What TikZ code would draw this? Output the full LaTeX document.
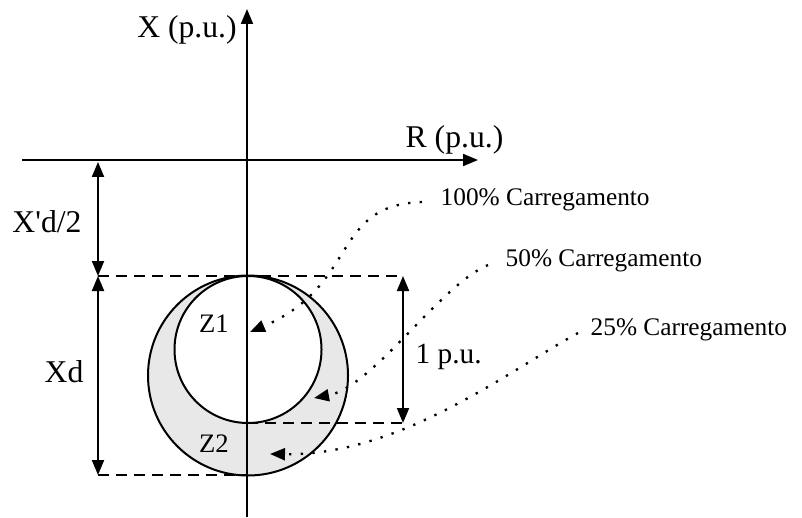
\documentclass[tikz,border=0pt]{standalone}
\usepackage{fontspec}
\setmainfont{Liberation Serif}
\usetikzlibrary{arrows.meta,positioning}

\begin{document}
\begin{tikzpicture}[
  x=0.3pt, y=-0.3pt,
  tip/.style={-{Triangle[length=4.5pt,width=3.6pt]}},
  axis/.style={line width=0.6pt, tip},
  dim/.style={line width=0.6pt,
    {Triangle[length=4.5pt,width=3.6pt]}-{Triangle[length=4.5pt,width=3.6pt]}},
  guide/.style={line width=0.6pt, dash pattern=on 3.3pt off 2.1pt},
  lead/.style={line width=0.7pt, dash pattern=on 0.7pt off 2.8pt,
    -{Triangle[length=4.5pt,width=3.6pt]}},
  lbl/.style={font=\fontsize{9.5}{11}\selectfont, inner sep=0pt},
  tag/.style={font=\fontsize{7.6}{9}\selectfont, inner sep=0pt,
    anchor=base west}
]
  \useasboundingbox (0,0) rectangle (802,517);

  % impedance circles
  \coordinate (c2) at (248,375.5);
  \coordinate (c1) at (248,349.5);
  \fill[gray!18, even odd rule] (c2) circle[radius=30pt]
    (c1) circle[radius=22.05pt];
  \draw[line width=0.6pt] (c2) circle[radius=30pt];
  \draw[line width=0.6pt] (c1) circle[radius=22.05pt];

  % reference points
  \coordinate (hL) at (22,160);
  \coordinate (hR) at (478,160);
  \coordinate (vB) at (247,517);
  \coordinate (vT) at (247,9);
  \coordinate (aTop) at (98,162);
  \coordinate (aMid) at (98,276);
  \coordinate (aBot) at (98,475);
  \coordinate (bTop) at (403,276);
  \coordinate (bBot) at (403,423);
  \coordinate (o1) at (247,423);
  \coordinate (o2) at (247,475);

  % guide lines
  \draw[guide] (aMid) -- (bTop);
  \draw[guide] (o1) -- (bBot);
  \draw[guide] (aBot) -- (o2);

  % axes
  \draw[axis] (hL) -- (hR);
  \draw[axis] (vB) -- (vT);
  \node[lbl, anchor=base] (xlab) at (187,38) {X (p.u.)};
  \node[lbl, anchor=base west] (rlab) at (405,148) {R (p.u.)};

  % dimensions
  \draw[dim] (aTop) -- (aMid);
  \draw[dim] (aMid) -- (aBot);
  \draw[dim] (bTop) -- (bBot);
  \node[lbl] (xdh) at (47,222) {X\textquotesingle d/2};
  \node[lbl] (xd) at (64,372) {Xd};
  \node[lbl, anchor=base west, font=\fontsize{8.8}{10}\selectfont]
    (pu) at (415,363) {1 p.u.};
  \node[lbl, anchor=base, font=\fontsize{8}{9}\selectfont]
    (z1) at (214,332) {Z1};
  \node[lbl, anchor=base, font=\fontsize{8}{9}\selectfont]
    (z2) at (214,452) {Z2};

  % load cases
  \node[tag] (t100) at (440,205) {100\% Carregamento};
  \node[tag] (t50) at (505,266) {50\% Carregamento};
  \node[tag] (t25) at (590,335) {25\% Carregamento};
  \coordinate (p100) at (422,202);
  \coordinate (p50) at (488,265);
  \coordinate (p25) at (578,333);
  \coordinate (e100) at (250,332);
  \coordinate (e50) at (314,398);
  \coordinate (e25) at (270,454);
  \draw[lead] (p100) .. controls (330,205) and (360,285) .. (e100);
  \draw[lead] (p50) .. controls (440,285) and (373,387) .. (e50);
  \draw[lead] (p25) .. controls (510,370) and (400,456) .. (e25);
\end{tikzpicture}
\end{document}
